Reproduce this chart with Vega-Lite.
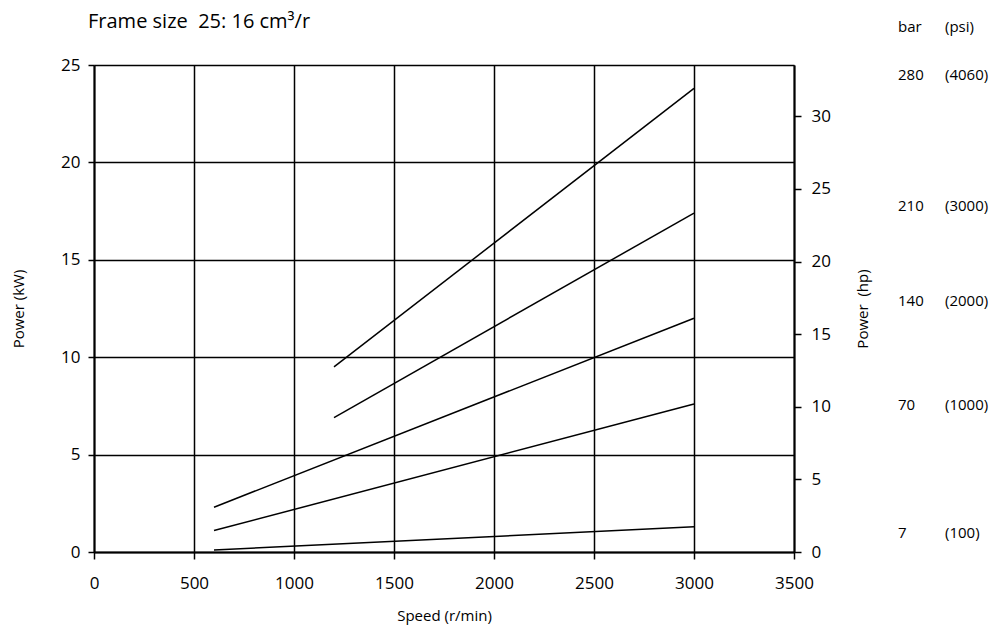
{
  "$schema": "https://vega.github.io/schema/vega-lite/v6.json",
  "width": 700,
  "height": 487,
  "autosize": "none",
  "padding": {"left": 94, "top": 65, "right": 206, "bottom": 80},
  "background": "white",
  "config": {
    "font": "Open Sans",
    "view": {"stroke": null},
    "axis": {
      "labelColor": "#000", "titleColor": "#000", "domainColor": "#000",
      "tickColor": "#000", "gridColor": "#000", "gridOpacity": 1,
      "labelFont": "Open Sans", "titleFont": "Open Sans", "titleFontWeight": "normal",
      "domainWidth": 2, "tickWidth": 1.5, "gridWidth": 1.5
    }
  },
  "title": {
    "text": "Frame size\u00a0 25: 16 cm³/r",
    "anchor": "start", "frame": "group", "dx": -6, "dy": 22, "offset": 10,
    "fontSize": 20, "fontWeight": "normal", "font": "Open Sans", "color": "#000"
  },
  "datasets": {
    "curves": [
      {"bar": "280", "speed": 1200, "kw": 9.5},
      {"bar": "280", "speed": 3000, "kw": 23.8},
      {"bar": "210", "speed": 1200, "kw": 6.9},
      {"bar": "210", "speed": 3000, "kw": 17.4},
      {"bar": "140", "speed": 600, "kw": 2.3},
      {"bar": "140", "speed": 3000, "kw": 12.0},
      {"bar": "70", "speed": 600, "kw": 1.1},
      {"bar": "70", "speed": 3000, "kw": 7.6},
      {"bar": "7", "speed": 600, "kw": 0.1},
      {"bar": "7", "speed": 3000, "kw": 1.3}
    ],
    "labels": [
      {"t": "bar", "speed": 4020, "kw": 26.95},
      {"t": "(psi)", "speed": 4255, "kw": 26.95},
      {"t": "280", "speed": 4020, "kw": 24.5},
      {"t": "(4060)", "speed": 4255, "kw": 24.5},
      {"t": "210", "speed": 4020, "kw": 17.75},
      {"t": "(3000)", "speed": 4255, "kw": 17.75},
      {"t": "140", "speed": 4020, "kw": 12.86},
      {"t": "(2000)", "speed": 4255, "kw": 12.86},
      {"t": "70", "speed": 4020, "kw": 7.57},
      {"t": "(1000)", "speed": 4255, "kw": 7.57},
      {"t": "7", "speed": 4020, "kw": 1.0},
      {"t": "(100)", "speed": 4255, "kw": 1.0}
    ]
  },
  "layer": [
    {
      "layer": [
        {
          "data": {"name": "curves"},
          "mark": {"type": "line", "color": "#000", "strokeWidth": 1.5},
          "encoding": {
            "x": {
              "field": "speed", "type": "quantitative",
              "scale": {"domain": [0, 3500], "nice": false},
              "axis": {
                "title": "Speed  (r/min)", "values": [0, 500, 1000, 1500, 2000, 2500, 3000, 3500],
                "format": "d",
                "grid": true, "tickSize": 7, "labelPadding": 16, "labelFontSize": 17,
                "titleFontSize": 15, "titlePadding": 17, "labelFlush": false
              }
            },
            "y": {
              "field": "kw", "type": "quantitative",
              "scale": {"domain": [0, 25], "nice": false},
              "axis": {
                "title": "Power (kW)", "values": [0, 5, 10, 15, 20, 25],
                "grid": true, "tickSize": 6, "labelPadding": 8, "labelFontSize": 17,
                "titleFontSize": 15, "titlePadding": 34, "labelFlush": false
              }
            },
            "detail": {"field": "bar"}
          }
        },
        {
          "data": {"name": "labels"},
          "mark": {"type": "text", "align": "left", "baseline": "middle", "fontSize": 15, "font": "Open Sans", "color": "#000", "clip": false},
          "encoding": {
            "x": {"field": "speed", "type": "quantitative", "scale": {"domain": [0, 3500], "nice": false}},
            "y": {"field": "kw", "type": "quantitative", "scale": {"domain": [0, 25], "nice": false}},
            "text": {"field": "t"}
          }
        }
      ]
    },
    {
      "data": {"values": [{"hp": 0}]},
      "mark": {"type": "point", "opacity": 0},
      "encoding": {
        "y": {
          "field": "hp", "type": "quantitative",
          "scale": {"domain": [0, 33.53], "nice": false},
          "axis": {
            "orient": "right", "title": "Power\u00a0 (hp)", "values": [0, 5, 10, 15, 20, 25, 30],
            "grid": false, "tickSize": 7, "labelPadding": 10, "labelFontSize": 17,
            "titleFontSize": 15, "titlePadding": 40, "titleAngle": 270, "labelFlush": false
          }
        }
      }
    }
  ],
  "resolve": {"scale": {"y": "independent"}}
}
